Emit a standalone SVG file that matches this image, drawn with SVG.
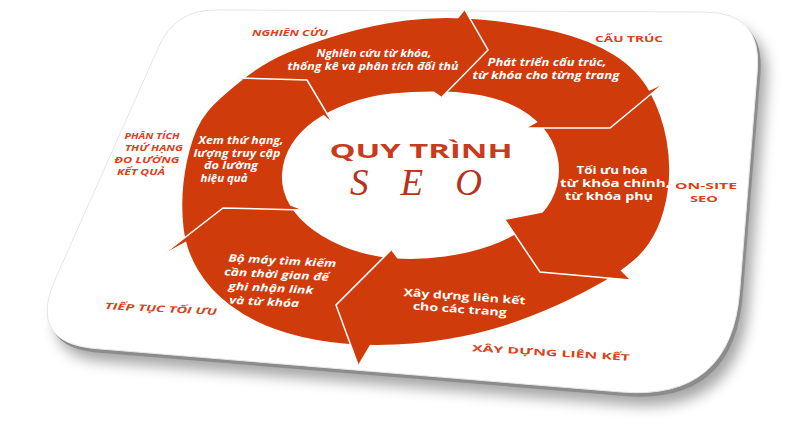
<svg xmlns="http://www.w3.org/2000/svg" width="800" height="445" viewBox="0 0 800 445">
<defs>
<style>
.seg{fill:#fff;font-family:'Open Sans','Noto Sans','Liberation Sans',sans-serif;font-weight:700;font-size:10.5px;text-anchor:middle}
.it{font-style:italic}
.lbl{fill:#D9411C;font-family:'Open Sans','Noto Sans','Liberation Sans',sans-serif;font-weight:700;font-size:9px;text-anchor:middle}
.sep{fill:none;stroke:#fff;stroke-width:1.5;stroke-linejoin:miter}
.head{fill:#D03B0B}
</style>
<filter id="blur" x="-10%" y="-10%" width="130%" height="140%"><feGaussianBlur stdDeviation="7"/></filter>
<path id="cardShape" d="M215,10 L704,12 Q762,12 757.4,69.8 L739.7,291.3 Q731,401 621.3,392 L96.8,348.7 Q27,343 55.4,279 L158.8,46.6 Q175,10 215,10 Z"/>
</defs>
<rect width="800" height="445" fill="#fff"/>
<g id="card">
<use href="#cardShape" transform="translate(9,13)" fill="#000" opacity="0.35" filter="url(#blur)"/>
<use href="#cardShape" transform="translate(3,4)" fill="#8c8c8c"/>
<use href="#cardShape" fill="#fff" stroke="#e6e6e6" stroke-width="1"/>
</g>
<g id="ring">
<path fill="#D03B0B" fill-rule="evenodd" d="M480,19.5 Q520,23 555,31.5 Q590,40 614,55 Q638,70 650,92.5 Q662,115 666.5,140 Q671,165 668,188.5 Q665,212 656.5,230 Q648,248 634,260 Q620,272 602.5,282 Q585,292 565,301.5 Q545,311 519,320.5 Q493,330 461.5,336.5 Q430,343 395,344.5 Q360,346 330,342 Q300,338 275,329 Q250,320 230,305 Q210,290 198,270 Q186,250 183.5,227.5 Q181,205 183.5,182.5 Q186,160 193,139 Q200,118 214.5,104 Q229,90 247.5,76 Q266,62 287,53 Q308,44 340,34.5 Q372,25 406,20.5 Q440,16 480,19.5 Z M442.5,91.5 Q470,92 492.5,98 Q515,104 530,115.5 Q545,127 552,141 Q559,155 559,170.5 Q559,186 551.5,200 Q544,214 528,226 Q512,238 491,245.5 Q470,253 445,256.5 Q420,260 396,258.5 Q372,257 351,249.5 Q330,242 314,230.5 Q298,219 289.5,204.5 Q281,190 282,174 Q283,158 291.5,144.5 Q300,131 314,121 Q328,111 348,103.5 Q368,96 391.5,93.5 Q415,91 442.5,91.5 Z"/>
</g>
<g id="connectors">
<polygon class="head" points="452,26 465,10 488,50 442,97 426,86"/>
<polygon class="head" points="640,95 662,85 610,128 527,128 545,118"/>
<polygon class="head" points="556,210 505,220 540,272 630,280 612,262"/>
<polygon class="head" points="402,265 391,250 336,305 358,365 374,338"/>
<polygon class="head" points="196,236 165,253 223,208 302,210 280,202"/>
<polygon class="head" points="258,84 238,78 307,80 332,122 318,110"/>
<polyline class="sep" points="465,10 488,50 442,97"/>
<polyline class="sep" points="662,85 610,128 527,128"/>
<polyline class="sep" points="505,220 540,272 630,280"/>
<polyline class="sep" points="391,250 336,305 358,365"/>
<polyline class="sep" points="165,253 223,208 302,210"/>
<polyline class="sep" points="238,78 307,80 332,122"/>
</g>
<g id="title">
<text x="421" y="158" font-family="'Open Sans','Liberation Sans',sans-serif" font-weight="700" font-size="19" fill="#C63C1C" text-anchor="middle" textLength="183" lengthAdjust="spacingAndGlyphs">QUY TRÌNH</text>
<text x="416" y="195" font-family="'Liberation Serif',serif" font-style="italic" font-size="37" fill="#B5321B" text-anchor="middle" textLength="132" lengthAdjust="spacing">SEO</text>
</g>
<g id="step-nghien-cuu">
<text class="lbl it" x="290" y="36" textLength="76" lengthAdjust="spacingAndGlyphs">NGHIÊN CỨU</text>
<text class="seg it" x="374" y="57" textLength="115" lengthAdjust="spacingAndGlyphs">Nghiên cứu từ khóa,</text>
<text class="seg it" x="373" y="70" textLength="171" lengthAdjust="spacingAndGlyphs">thống kê và phân tích đối thủ</text>
</g>
<g id="step-cau-truc">
<text class="lbl" x="629" y="42" font-size="9.5" textLength="68" lengthAdjust="spacingAndGlyphs">CẤU TRÚC</text>
<text class="seg it" x="547" y="66" textLength="119" lengthAdjust="spacingAndGlyphs">Phát triển cấu trúc,</text>
<text class="seg it" x="546" y="79" textLength="147" lengthAdjust="spacingAndGlyphs">từ khóa cho từng trang</text>
</g>
<g id="step-on-site">
<text class="lbl" x="706" y="189" font-size="10" textLength="62" lengthAdjust="spacingAndGlyphs">ON-SITE</text>
<text class="lbl" x="704" y="202" font-size="10" textLength="28" lengthAdjust="spacingAndGlyphs">SEO</text>
<text class="seg" x="612" y="174" textLength="71" lengthAdjust="spacingAndGlyphs">Tối ưu hóa</text>
<text class="seg" x="615" y="187" textLength="110" lengthAdjust="spacingAndGlyphs">từ khóa chính,</text>
<text class="seg" x="609" y="200" textLength="88" lengthAdjust="spacingAndGlyphs">từ khóa phụ</text>
</g>
<g id="step-xay-dung">
<text class="lbl" x="551" y="356" font-size="10" textLength="158" lengthAdjust="spacingAndGlyphs" transform="rotate(3.5 551 352)">XÂY DỰNG LIÊN KẾT</text>
<g transform="rotate(4 462 306)">
<text class="seg" x="464" y="300" textLength="122" lengthAdjust="spacingAndGlyphs">Xây dựng liên kết</text>
<text class="seg" x="460" y="313" textLength="94" lengthAdjust="spacingAndGlyphs">cho các trang</text>
</g>
</g>
<g id="step-tiep-tuc">
<text class="lbl it" x="161" y="312" font-size="9.5" textLength="112" lengthAdjust="spacingAndGlyphs" transform="rotate(3 161 308)">TIẾP TỤC TỐI ƯU</text>
<g transform="rotate(3 275 285)">
<text class="seg it" x="281" y="264" textLength="108" lengthAdjust="spacingAndGlyphs">Bộ máy tìm kiếm</text>
<text class="seg it" x="276" y="278" textLength="105" lengthAdjust="spacingAndGlyphs">cần thời gian để</text>
<text class="seg it" x="271" y="292" textLength="85" lengthAdjust="spacingAndGlyphs">ghi nhận link</text>
<text class="seg it" x="265" y="306" textLength="70" lengthAdjust="spacingAndGlyphs">và từ khóa</text>
</g>
</g>
<g id="step-phan-tich">
<text class="lbl it" x="152" y="139" textLength="55" lengthAdjust="spacingAndGlyphs">PHÂN TÍCH</text>
<text class="lbl it" x="154" y="151" textLength="58" lengthAdjust="spacingAndGlyphs">THỨ HẠNG</text>
<text class="lbl it" x="147" y="163" textLength="65" lengthAdjust="spacingAndGlyphs">ĐO LƯỜNG</text>
<text class="lbl it" x="141" y="175" textLength="48" lengthAdjust="spacingAndGlyphs">KẾT QUẢ</text>
<text class="seg it" x="241" y="144" font-size="9" textLength="85" lengthAdjust="spacingAndGlyphs">Xem thứ hạng,</text>
<text class="seg it" x="237" y="156.5" font-size="9" textLength="87" lengthAdjust="spacingAndGlyphs">lượng truy cập</text>
<text class="seg it" x="231" y="169" font-size="9" textLength="54" lengthAdjust="spacingAndGlyphs">đo lường</text>
<text class="seg it" x="224" y="181.5" font-size="9" textLength="47" lengthAdjust="spacingAndGlyphs">hiệu quả</text>
</g>
</svg>
